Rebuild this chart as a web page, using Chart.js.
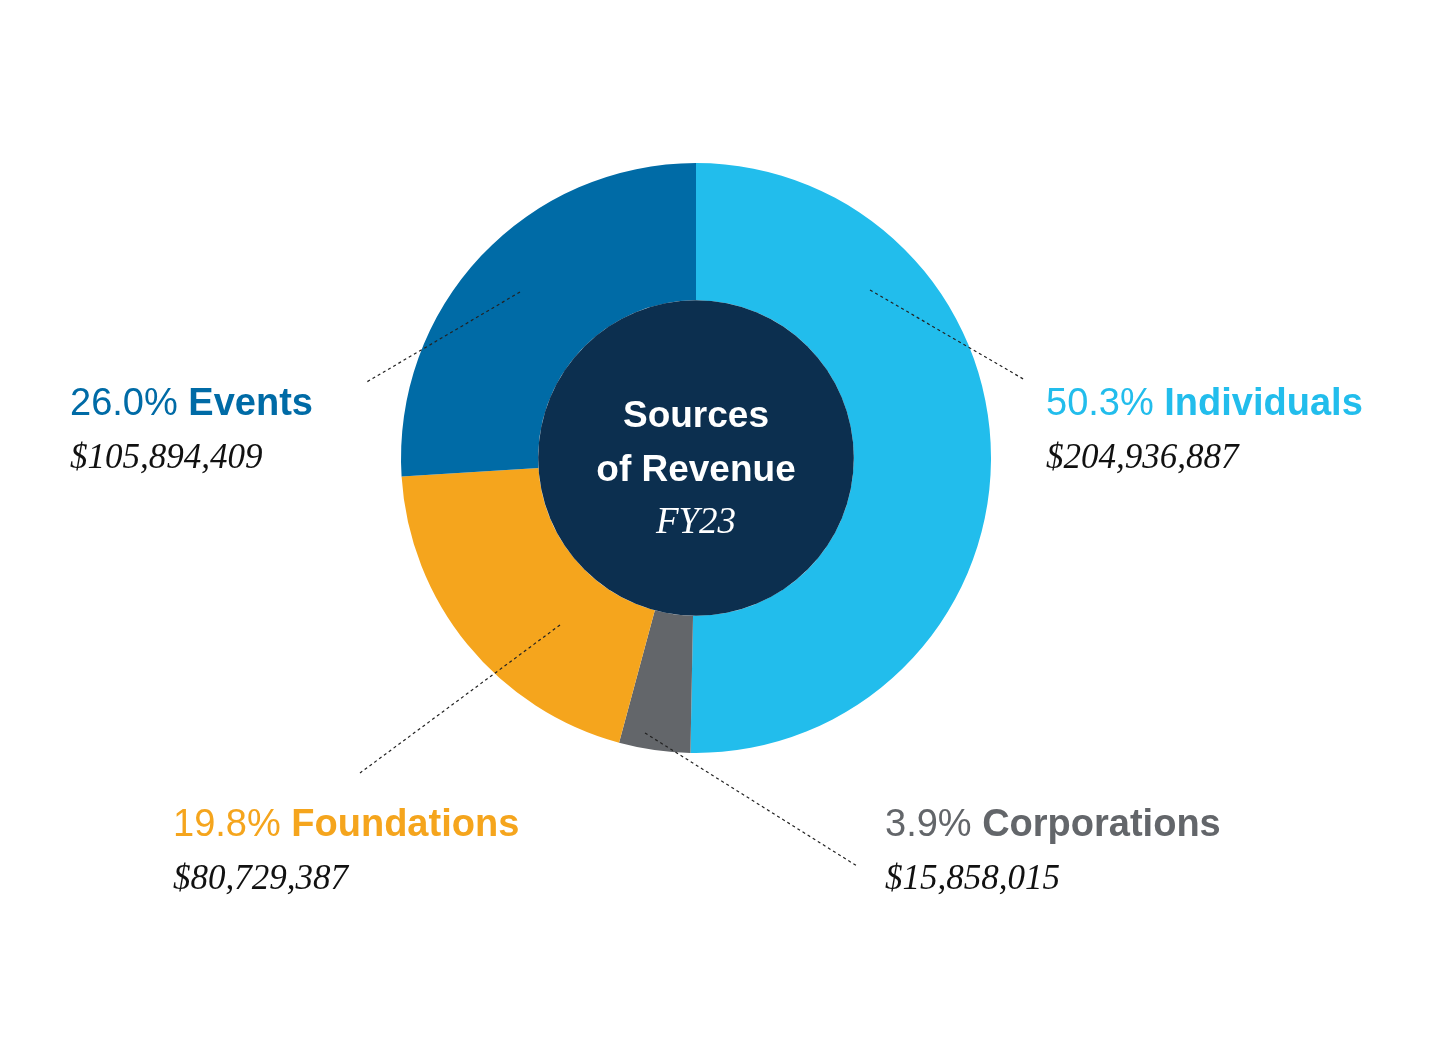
<!DOCTYPE html>
<html><head><meta charset="utf-8">
<script src="https://cdn.jsdelivr.net/npm/chart.js@4"></script>
<style>html,body{margin:0;padding:0;background:#fff}canvas{display:block}</style>
</head><body>
<canvas id="c" width="1450" height="1040"></canvas>
<script>
const categories = ["Individuals","Corporations","Foundations","Events"];
const percents = [50.3, 3.9, 19.8, 26.0];
const amounts = ["$204,936,887","$15,858,015","$80,729,387","$105,894,409"];
const colors = ["#22bdec","#63666a","#f5a51d","#006ba6"];
const titleLines = ["Sources","of Revenue"];
const subtitle = "FY23";

const labelPos = [
  {x:1046,y:415,lx:1025,ly:380,r:0.6},
  {x:885,y:836,lx:857,ly:866,r:0.85},
  {x:173,y:836,lx:360,ly:773,r:0.7},
  {x:70,y:415,lx:365,ly:383,r:0.7}
];

const plugin = {
  id:'deco',
  afterDatasetsDraw(chart){
    const ctx = chart.ctx;
    const meta = chart.getDatasetMeta(0);
    const a0 = meta.data[0];
    const cx=a0.x, cy=a0.y;
    ctx.save();
    ctx.fillStyle="#0c2f4f";
    ctx.beginPath();ctx.arc(cx,cy,a0.innerRadius,0,Math.PI*2);ctx.fill();
    ctx.fillStyle="#fff";ctx.textAlign="center";ctx.textBaseline="alphabetic";
    ctx.font="bold 37px 'Liberation Sans', Arial, sans-serif";
    ctx.fillText(titleLines[0],cx,427);
    ctx.fillText(titleLines[1],cx,481);
    ctx.font="italic 37px 'Liberation Serif', serif";
    ctx.fillText(subtitle,cx,533);
    // leader lines
    ctx.setLineDash([3,3]);ctx.strokeStyle="#222";ctx.lineWidth=1.2;
    meta.data.forEach((arc,i)=>{
      const p=labelPos[i];
      const mid=(arc.startAngle+arc.endAngle)/2;
      const rr=arc.innerRadius+(arc.outerRadius-arc.innerRadius)*p.r;
      let sx=cx+Math.cos(mid)*rr, sy=cy+Math.sin(mid)*rr;
      if(i===0){sx=870;sy=290;}
      if(i===3){sx=520;sy=292;}
      if(i===2){sx=560;sy=625;}
      if(i===1){sx=645;sy=733;}
      ctx.beginPath();ctx.moveTo(sx,sy);ctx.lineTo(p.lx,p.ly);ctx.stroke();
    });
    ctx.setLineDash([]);
    // labels
    ctx.textAlign="left";
    categories.forEach((c,i)=>{
      const p=labelPos[i];
      ctx.fillStyle=colors[i];
      ctx.font="38px 'Liberation Sans', Arial, sans-serif";
      const pt=percents[i].toFixed(1)+"% ";
      ctx.fillText(pt,p.x,p.y);
      const w=ctx.measureText(pt).width;
      ctx.font="bold 38px 'Liberation Sans', Arial, sans-serif";
      ctx.fillText(c,p.x+w,p.y);
      ctx.fillStyle="#111";
      ctx.font="italic 35px 'Liberation Serif', serif";
      ctx.fillText(amounts[i],p.x,p.y+53);
    });
    ctx.restore();
  }
};

new Chart(document.getElementById('c'),{
  type:'doughnut',
  data:{labels:categories,datasets:[{data:percents,backgroundColor:colors,borderWidth:0}]},
  options:{
    responsive:false,animation:false,cutout:'53.5%',
    layout:{padding:{top:163,bottom:287,left:401,right:459}},
    plugins:{legend:{display:false},tooltip:{enabled:false}}
  },
  plugins:[plugin]
});
</script>
</body></html>
